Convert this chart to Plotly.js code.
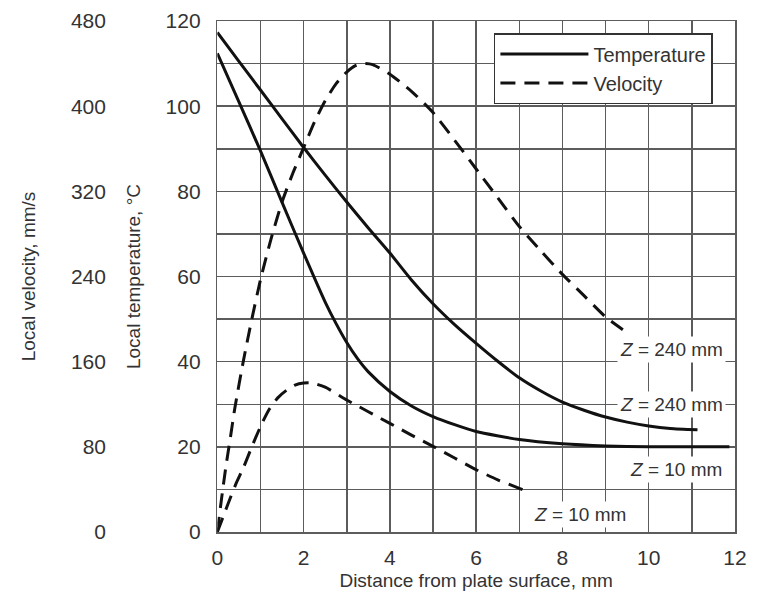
<!DOCTYPE html>
<html>
<head>
<meta charset="utf-8">
<script src="https://cdn.plot.ly/plotly-3.0.1.min.js"></script>
<style>html,body{margin:0;padding:0;background:#fff;}</style>
</head>
<body>
<div id="chart" style="width:758px;height:608px;"></div>
<script>
// Temperature, Z = 240 mm
const tempHighX = [0, 0.5, 1, 1.5, 2, 2.5, 3, 3.5, 4, 4.5, 5, 5.5, 6, 6.5, 7, 7.5, 8, 8.5, 9, 9.5, 10, 10.5, 11.13];
const tempHighY = [117.3, 110.5, 103.8, 97, 90.3, 83.8, 77.5, 71.4, 65.5, 59.2, 53.6, 48.7, 44.3, 40.1, 36.2, 33.1, 30.5, 28.6, 27.0, 25.8, 24.9, 24.3, 24.0];
// Temperature, Z = 10 mm
const tempLowX = [0, 0.5, 1, 1.5, 2, 2.5, 2.75, 3, 3.25, 3.5, 4, 4.5, 5, 5.5, 6, 7, 8, 9, 10, 11, 11.87];
const tempLowY = [112.4, 101, 89.5, 77.4, 65.5, 54, 49, 44.5, 40.7, 37.6, 33, 29.6, 27.1, 25.2, 23.6, 21.7, 20.7, 20.2, 20, 20, 20];
// Velocity, Z = 240 mm
const velHighX = [0, 0.1, 0.2, 0.3, 0.4, 0.6, 0.8, 1.0, 1.25, 1.5, 1.75, 2.0, 2.25, 2.5, 2.75, 3.0, 3.2, 3.4, 3.6, 4.0, 4.5, 5.0, 5.5, 6.0, 6.5, 7.0, 7.5, 8.0, 8.5, 9.0, 9.4];
const velHighY = [0, 32, 62, 88, 115, 160, 200, 237, 276, 310, 337, 361, 385, 405, 421, 432, 438, 440, 439, 430, 414, 394, 368, 341, 314, 287, 264, 242, 222, 202, 190];
// Velocity, Z = 10 mm
const velLowX = [0, 0.15, 0.3, 0.45, 0.6, 0.8, 1.0, 1.2, 1.4, 1.6, 1.8, 2.0, 2.2, 2.5, 3.0, 3.5, 4.0, 4.5, 5.0, 5.5, 6.0, 6.5, 7.0, 7.24];
const velLowY = [0, 16, 32, 47, 60, 80, 99, 115, 126, 133, 138, 140, 140, 136, 124, 113, 102, 91, 80.5, 69.5, 58.5, 49, 41, 37.2];

const xTickVals = [0, 2, 4, 6, 8, 10, 12];
const tempTickVals = [0, 20, 40, 60, 80, 100, 120];
const velTickVals = [0, 80, 160, 240, 320, 400, 480];

const FONT = 'Liberation Sans, Arial, sans-serif';
const TXT = '#333';
const GRID = '#5c5c5c';
const LINE = '#111';

const solid = {color: LINE, width: 3, shape: 'spline', smoothing: 0.6};
const dashed = {color: LINE, width: 3, dash: '15px,9px', shape: 'spline', smoothing: 0.6};

const traces = [
  {x: tempHighX, y: tempHighY, mode: 'lines', name: 'Temperature', line: solid, yaxis: 'y', showlegend: true},
  {x: tempLowX, y: tempLowY, mode: 'lines', name: 'Temperature', line: solid, yaxis: 'y', showlegend: false},
  {x: velHighX, y: velHighY, mode: 'lines', name: 'Velocity', line: dashed, yaxis: 'y2', showlegend: true},
  {x: velLowX, y: velLowY, mode: 'lines', name: 'Velocity', line: dashed, yaxis: 'y2', showlegend: false}
];

const ann = (x, y, t) => ({x: x, y: y, xref: 'x', yref: 'y', text: t, showarrow: false,
  font: {family: FONT, size: 19, color: TXT}, bgcolor: '#fff', borderpad: 2});

const layout = {
  width: 758, height: 608,
  margin: {l: 0, r: 23, t: 21, b: 76},
  paper_bgcolor: '#fff', plot_bgcolor: '#fff',
  font: {family: FONT, color: TXT},
  showlegend: true,
  legend: {x: 0.672, y: 0.9765, xanchor: 'left', yanchor: 'top', bgcolor: '#fff',
    bordercolor: '#333', borderwidth: 1.5, font: {family: FONT, size: 20, color: TXT},
    itemwidth: 88, traceorder: 'normal'},
  xaxis: {domain: [0.2957, 1], range: [0, 12], tickvals: xTickVals, showgrid: true,
    gridcolor: GRID, gridwidth: 1.5, minor: {dtick: 1, showgrid: true, gridcolor: GRID, gridwidth: 1.5},
    zeroline: false, showline: true, mirror: true, linecolor: GRID, linewidth: 1.5,
    ticks: 'outside', ticklen: 6, tickcolor: 'rgba(0,0,0,0)',
    tickfont: {family: FONT, size: 21, color: TXT},
    title: {text: 'Distance from plate surface, mm', font: {family: FONT, size: 19, color: TXT}, standoff: 6}},
  yaxis: {range: [0, 120], tickvals: tempTickVals, showgrid: true, gridcolor: GRID, gridwidth: 1.5,
    minor: {dtick: 10, showgrid: true, gridcolor: GRID, gridwidth: 1.5},
    zeroline: false, showline: true, mirror: true, linecolor: GRID, linewidth: 1.5,
    ticks: 'outside', ticklen: 11, tickcolor: 'rgba(0,0,0,0)',
    tickfont: {family: FONT, size: 21, color: TXT},
    title: {text: 'Local temperature, °C', font: {family: FONT, size: 19, color: TXT}, standoff: 20}},
  yaxis2: {overlaying: 'y', anchor: 'free', position: 0.1442, side: 'left', range: [0, 480],
    tickvals: velTickVals, showgrid: false, zeroline: false, showline: false,
    ticks: '', tickfont: {family: FONT, size: 21, color: TXT},
    title: {text: 'Local velocity, mm/s', font: {family: FONT, size: 19, color: TXT}, standoff: 29}},
  annotations: [
    ann(10.53, 42.8, '<i>Z</i> = 240 mm'),
    ann(10.53, 29.9, '<i>Z</i> = 240 mm'),
    ann(10.64, 14.6, '<i>Z</i> = 10 mm'),
    ann(8.4, 4.2, '<i>Z</i> = 10 mm')
  ]
};

Plotly.newPlot('chart', traces, layout, {displayModeBar: false, staticPlot: true});
</script>
</body>
</html>
